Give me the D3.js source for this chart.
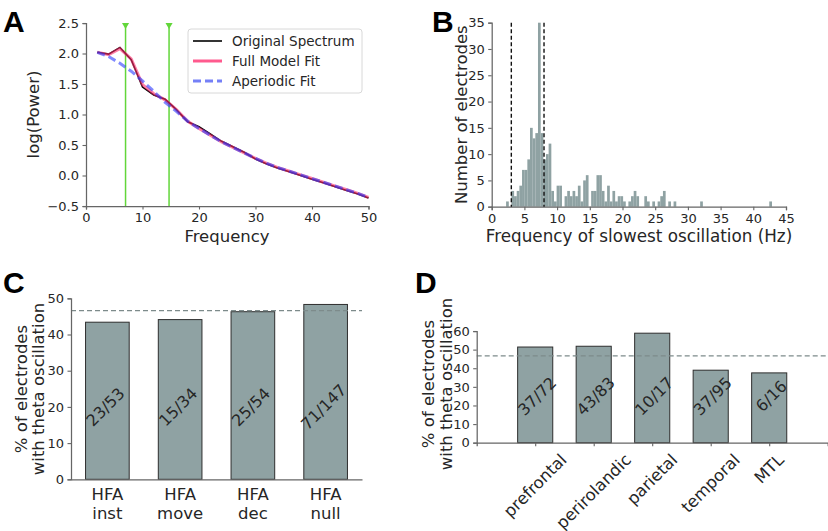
<!DOCTYPE html>
<html><head><meta charset="utf-8">
<script src="https://cdn.jsdelivr.net/npm/d3@7"></script>
<style>
body{margin:0;background:#fff;}
svg{display:block;font-family:"DejaVu Sans",sans-serif;}
</style></head>
<body>
<svg id="chart" width="828" height="531"></svg>
<script>
// ---------------- DATA ----------------
// Panel A: power spectrum
const freqs = [2,4,6,8,10,12,14,16,18,20,22,24,26,28,30,32,34,36,38,40,42,44,46,48,50];
const originalSpectrum = [2.02,1.99,2.10,1.90,1.45,1.32,1.25,1.08,0.88,0.80,0.68,0.56,0.47,0.38,0.27,0.19,0.12,0.06,0.00,-0.06,-0.12,-0.18,-0.24,-0.30,-0.37];
const fullModelFit = [2.02,1.98,2.08,1.91,1.49,1.34,1.24,1.08,0.89,0.77,0.66,0.55,0.46,0.37,0.28,0.20,0.13,0.07,0.01,-0.05,-0.11,-0.17,-0.23,-0.29,-0.36];
const aperiodicFit = [2.02,1.95,1.84,1.71,1.55,1.38,1.20,1.05,0.89,0.77,0.66,0.55,0.46,0.37,0.28,0.20,0.13,0.07,0.01,-0.05,-0.11,-0.17,-0.23,-0.29,-0.36];
const peakFreqs = [7.0, 14.7];
const legendLabels = ["Original Spectrum","Full Model Fit","Aperiodic Fit"];
const xTicksA = [0,10,20,30,40,50];
const yTicksA = [-0.5,0,0.5,1,1.5,2,2.5];

// Panel B: histogram of slowest oscillation frequency
const histBinStart = 2.2;
const histBinWidth = 0.4065;
const histCounts = [1,0,3,2,3,4,7,7,9,15,13,14,35,14,9,10,12,3,1,4,4,0,2,3,2,3,2,4,1,5,
  6,0,3,3,6,6,3,1,4,1,3,1,2,2,1,0,1,2,3,2,0,0,2,1,0,1,0,1,2,3,
  0,1,0,1,0,0,0,0,0,0,0,0,0,1,0,0,0,0,0,0,0,0,0,0,0,0,0,0,0,0,
  0,0,0,0,0,0,0,0,0,1];
const thetaBand = [3, 8];
const xTicksB = [0,5,10,15,20,25,30,35,40,45];
const yTicksB = [0,5,10,15,20,25,30,35];

// Panel C: HFA categories
const catsC = [["HFA","inst"],["HFA","move"],["HFA","dec"],["HFA","null"]];
const thetaC = [23,15,25,71];
const totalC = [53,34,54,147];
const yTicksC = [0,10,20,30,40,50];

// Panel D: regions
const catsD = ["prefrontal","perirolandic","parietal","temporal","MTL"];
const thetaD = [37,43,10,37,6];
const totalD = [72,83,17,95,16];
const yTicksD = [0,10,20,30,40,50,60];

const overallPct = 46.6;

// ---------------- DRAW ----------------
const svg = d3.select("#chart");
const TXT = "#262626", SPINE = "#666", BARC = "#8fa2a3";
const tickFont = 13, labFont = 16.5;

function axisStyle(g){
  g.selectAll("path.domain").attr("stroke",SPINE).attr("stroke-width",1.25);
  g.selectAll(".tick line").attr("stroke",SPINE).attr("stroke-width",1.1);
  g.selectAll(".tick text").attr("fill",TXT).style("font-size",tickFont+"px").style("font-family","DejaVu Sans");
}
function panelLetter(t,x,y){
  svg.append("text").attr("x",x).attr("y",y).text(t)
    .style("font-family","Liberation Sans, Arial, sans-serif").style("font-weight","bold")
    .style("font-size","30px").attr("fill","#000");
}
function ylabel(lines, xs, cy){
  lines.forEach((l,i)=>{
    svg.append("text").attr("transform",`translate(${xs[i]},${cy}) rotate(-90)`)
      .attr("text-anchor","middle").style("font-size",labFont+"px").attr("fill",TXT).text(l);
  });
}

// ===== Panel A =====
const xA = d3.scaleLinear().domain([0,50]).range([86,368.5]);
const yA = d3.scaleLinear().domain([-0.5,2.5]).range([206,23]);
svg.append("g").attr("transform","translate(0,206)")
  .call(d3.axisBottom(xA).tickValues(xTicksA).tickSizeOuter(0).tickSize(3.5).tickPadding(3.5)).call(axisStyle);
svg.append("g").attr("transform","translate(86,0)")
  .call(d3.axisLeft(yA).tickValues(yTicksA).tickFormat(d3.format(".1f")).tickSizeOuter(0).tickSize(3.5).tickPadding(3.5)).call(axisStyle);

const GREEN = "#62d63a";
peakFreqs.forEach(f=>{
  svg.append("line").attr("x1",xA(f)).attr("x2",xA(f)).attr("y1",yA(2.5)).attr("y2",yA(-0.5))
    .attr("stroke",GREEN).attr("stroke-width",1.5);
  svg.append("path").attr("d",d3.symbol().type(d3.symbolTriangle).size(22)())
    .attr("transform",`translate(${xA(f)},${yA(2.5)+2}) rotate(180)`).attr("fill",GREEN);
});

const lineA = arr => d3.line().x((d,i)=>xA(freqs[i])).y(d=>yA(d))(arr);
svg.append("path").attr("d",lineA(originalSpectrum)).attr("fill","none").attr("stroke","#000").attr("stroke-width",1.6);
svg.append("path").attr("d",lineA(fullModelFit)).attr("fill","none").attr("stroke","#ff2a6a").attr("stroke-opacity",0.6).attr("stroke-width",3);
svg.append("path").attr("d",lineA(aperiodicFit)).attr("fill","none").attr("stroke","#2b3cff").attr("stroke-opacity",0.6).attr("stroke-width",3).attr("stroke-dasharray","8,4");

// legend
svg.append("rect").attr("x",188).attr("y",29).attr("width",174).attr("height",64).attr("rx",3)
  .attr("fill","#fff").attr("fill-opacity",0.85).attr("stroke","#d8d8d8");
const legStyles = [
  {c:"#000",w:1.6,o:1,dash:null},
  {c:"#ff5a8e",w:3,o:1,dash:null},
  {c:"#7580f7",w:3,o:1,dash:"8,4"}];
legendLabels.forEach((l,i)=>{
  const yy = 41+i*20;
  const ln = svg.append("line").attr("x1",193).attr("x2",222).attr("y1",yy).attr("y2",yy)
    .attr("stroke",legStyles[i].c).attr("stroke-width",legStyles[i].w);
  if(legStyles[i].dash) ln.attr("stroke-dasharray",legStyles[i].dash);
  svg.append("text").attr("x",232).attr("y",yy+5).text(l).style("font-size","13.5px").attr("fill",TXT);
});
svg.append("text").attr("x",227).attr("y",242).attr("text-anchor","middle").style("font-size",labFont+"px").attr("fill",TXT).text("Frequency");
ylabel(["log(Power)"],[39],114.5);
panelLetter("A",3,32);

// ===== Panel B =====
const xB = d3.scaleLinear().domain([0,45]).range([491.7,786]);
const yB = d3.scaleLinear().domain([0,35]).range([206.7,22.7]);
svg.append("g").selectAll("rect").data(histCounts).join("rect")
  .attr("x",(d,i)=>xB(histBinStart+i*histBinWidth))
  .attr("width",(d,i)=>xB(histBinStart+(i+1)*histBinWidth)-xB(histBinStart+i*histBinWidth)+0.05)
  .attr("y",d=>yB(d)).attr("height",d=>yB(0)-yB(d)).attr("fill",BARC);
svg.append("g").attr("transform","translate(0,206.7)")
  .call(d3.axisBottom(xB).tickValues(xTicksB).tickSizeOuter(0).tickSize(3.5).tickPadding(3.5)).call(axisStyle);
svg.append("g").attr("transform","translate(491.7,0)")
  .call(d3.axisLeft(yB).tickValues(yTicksB).tickSizeOuter(0).tickSize(3.5).tickPadding(3.5)).call(axisStyle);
thetaBand.forEach(f=>{
  svg.append("line").attr("x1",xB(f)).attr("x2",xB(f)).attr("y1",yB(35)).attr("y2",yB(0))
    .attr("stroke","#111").attr("stroke-width",1.4).attr("stroke-dasharray","4,2.5");
});
svg.append("text").attr("x",639).attr("y",241.5).attr("text-anchor","middle").style("font-size","16.8px").attr("fill",TXT).text("Frequency of slowest oscillation (Hz)");
ylabel(["Number of electrodes"],[466.5],114.7);
panelLetter("B",432,32);

// ===== Panel C =====
const xC = d3.scalePoint().domain(d3.range(catsC.length)).range([71,362]).padding(0.5);
const yC = d3.scaleLinear().domain([0,50]).range([479.3,298.3]);
const bwC = xC.step()*0.6;
const pctC = thetaC.map((v,i)=>v/totalC[i]*100);
svg.append("g").selectAll("rect").data(pctC).join("rect")
  .attr("x",(d,i)=>xC(i)-bwC/2).attr("width",bwC)
  .attr("y",d=>yC(d)).attr("height",d=>yC(0)-yC(d))
  .attr("fill",BARC).attr("stroke","#2e2e2e").attr("stroke-width",1);
svg.append("line").attr("x1",71).attr("x2",362).attr("y1",yC(overallPct)).attr("y2",yC(overallPct))
  .attr("stroke","#7d8b8b").attr("stroke-width",1.3).attr("stroke-dasharray","5,3");
const gxC = svg.append("g").attr("transform","translate(0,479.3)")
  .call(d3.axisBottom(xC).tickFormat("").tickSizeOuter(0).tickSize(0)).call(axisStyle);
catsC.forEach((c,i)=>{
  const t = svg.append("text").attr("x",xC(i)).attr("y",500).attr("text-anchor","middle")
    .style("font-size",labFont+"px").attr("fill",TXT);
  t.append("tspan").attr("x",xC(i)).attr("dy",0).text(c[0]);
  t.append("tspan").attr("x",xC(i)).attr("dy",18.5).text(c[1]);
});
svg.append("g").attr("transform","translate(71,0)")
  .call(d3.axisLeft(yC).tickValues(yTicksC).tickSizeOuter(0).tickSize(3.5).tickPadding(3.5)).call(axisStyle);
thetaC.forEach((v,i)=>{
  svg.append("text").attr("transform",`translate(${xC(i)-2},${yC(20)}) rotate(-45)`)
    .attr("text-anchor","middle").attr("dy","0.35em").style("font-size","16px").attr("fill",TXT)
    .text(v+"/"+totalC[i]);
});
ylabel(["% of electrodes","with theta oscillation"],[26.7,44.3],389);
panelLetter("C",3,293);

// ===== Panel D =====
const xD = d3.scaleLinear().domain([-1,5]).range([476.7,827.7]);
const yD = d3.scaleLinear().domain([0,60]).range([442.7,331]);
const stepD = xD(1)-xD(0), bwD = stepD*0.6;
const pctD = thetaD.map((v,i)=>v/totalD[i]*100);
svg.append("g").selectAll("rect").data(pctD).join("rect")
  .attr("x",(d,i)=>xD(i)-bwD/2).attr("width",bwD)
  .attr("y",d=>yD(d)).attr("height",d=>yD(0)-yD(d))
  .attr("fill",BARC).attr("stroke","#2e2e2e").attr("stroke-width",1);
svg.append("line").attr("x1",476.7).attr("x2",828).attr("y1",yD(overallPct)).attr("y2",yD(overallPct))
  .attr("stroke","#7d8b8b").attr("stroke-width",1.3).attr("stroke-dasharray","5,3");
svg.append("g").attr("transform","translate(0,442.7)")
  .call(d3.axisBottom(xD).tickValues(d3.range(catsD.length)).tickFormat("").tickSizeOuter(0).tickSize(3.5)).call(axisStyle);
svg.append("g").attr("transform","translate(476.7,0)")
  .call(d3.axisLeft(yD).tickValues(yTicksD).tickSizeOuter(0).tickSize(3.5).tickPadding(3.5)).call(axisStyle);
catsD.forEach((c,i)=>{
  const t = svg.append("text").attr("text-anchor","middle").attr("dy","5.5px")
    .style("font-size",labFont+"px").attr("fill",TXT).text(c);
  const L = t.node().getComputedTextLength();
  const H = (L + 1.164*labFont)/Math.SQRT2;
  t.attr("transform",`translate(${xD(i)},${442.7+7.5+H/2}) rotate(-45)`);
});
thetaD.forEach((v,i)=>{
  svg.append("text").attr("transform",`translate(${xD(i)+2},${yD(25)}) rotate(-45)`)
    .attr("text-anchor","middle").attr("dy","0.35em").style("font-size","16px").attr("fill",TXT)
    .text(v+"/"+totalD[i]);
});
ylabel(["% of electrodes","with theta oscillation"],[433.5,451.5],384);
panelLetter("D",415,293);
</script>
</body></html>
